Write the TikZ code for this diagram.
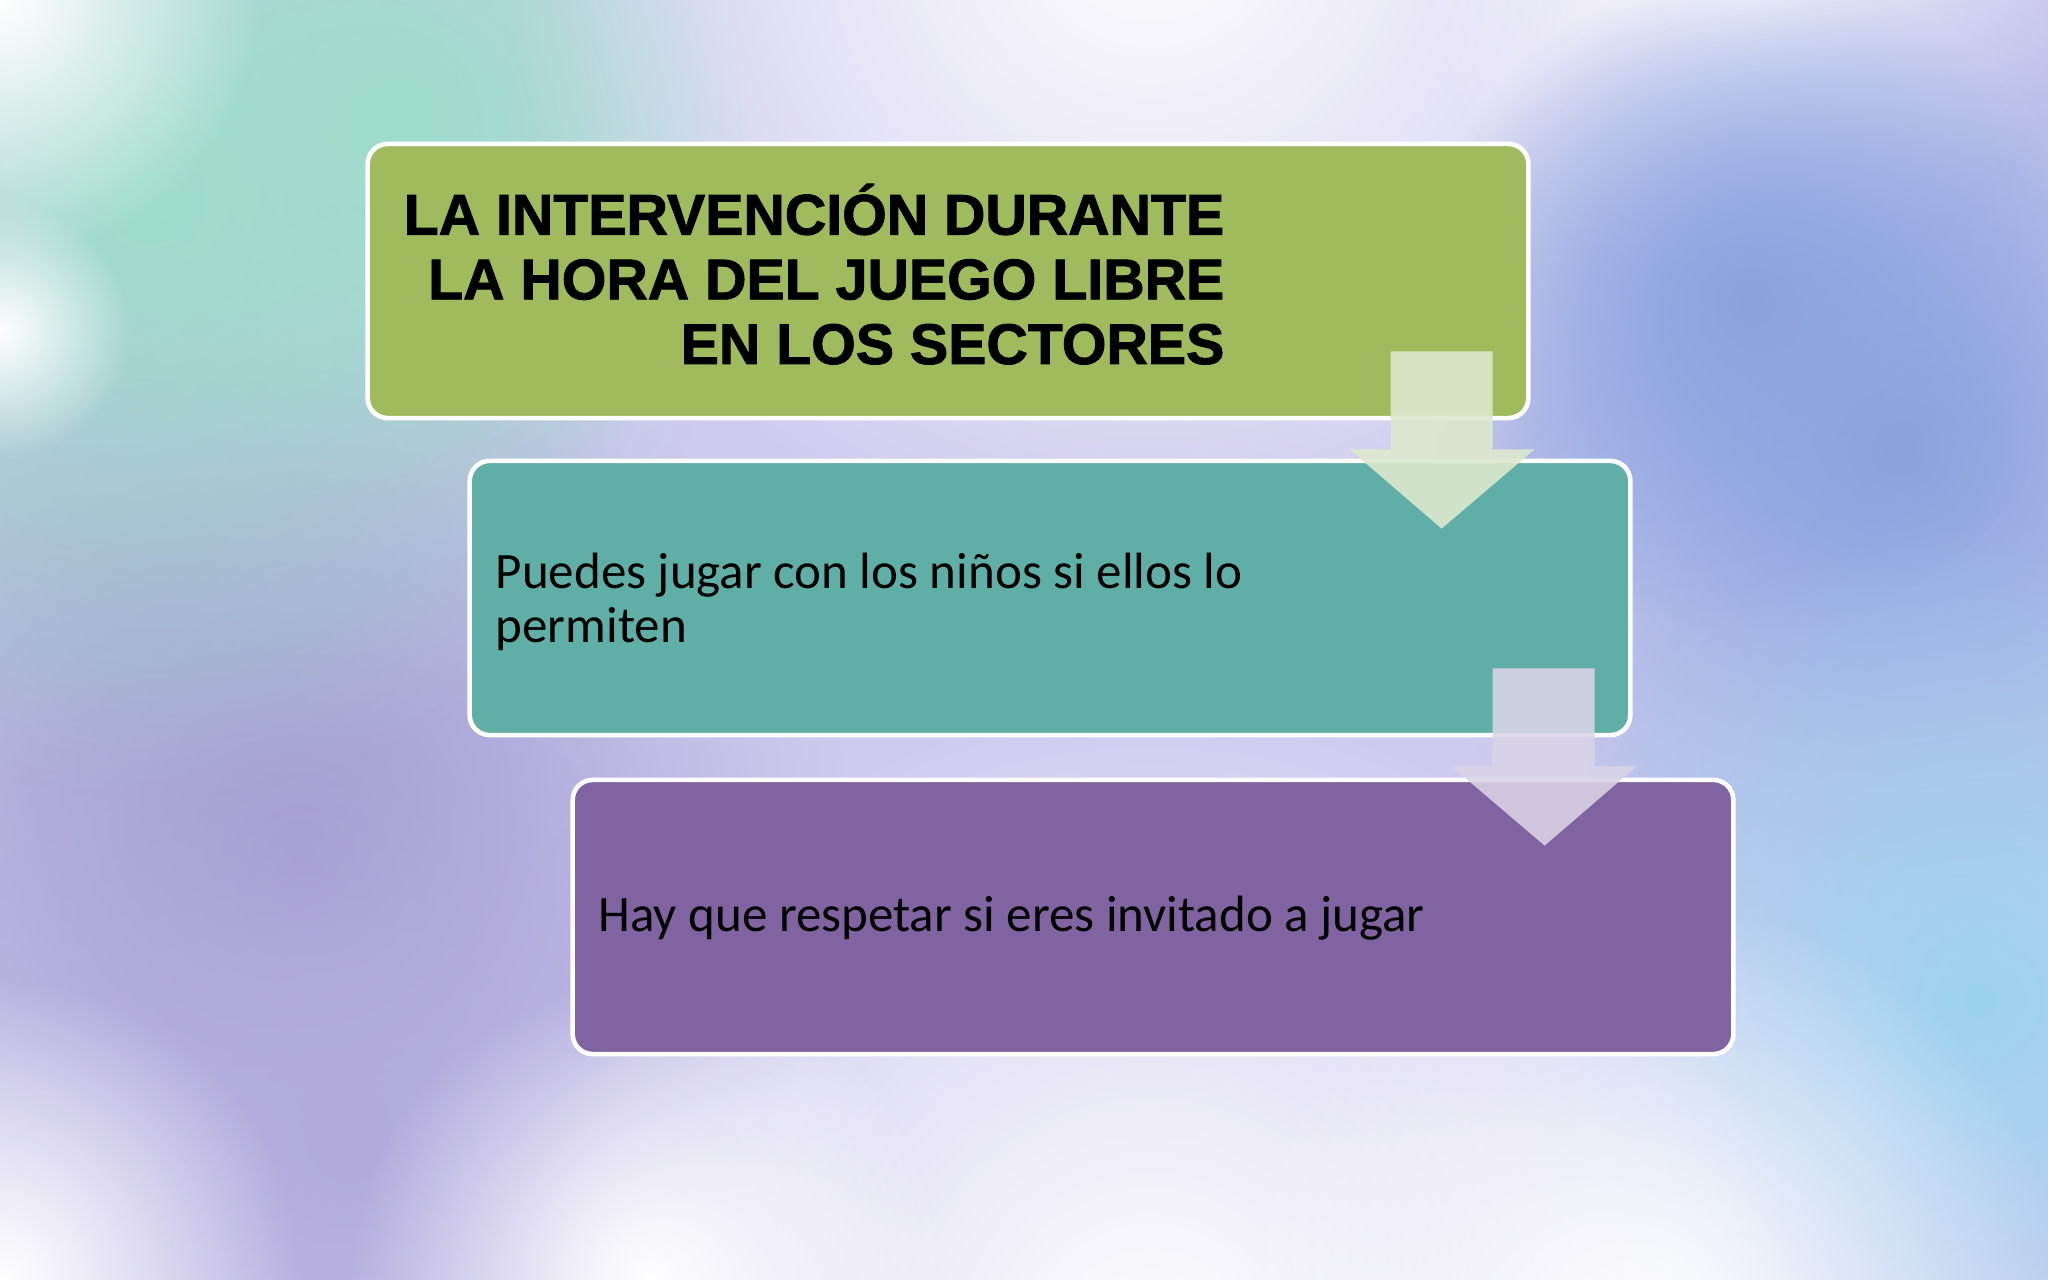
\documentclass[tikz,border=0pt]{standalone}
\usepackage{fontspec}
\setmainfont{Carlito}
\newfontfamily\titlefont[FakeBold=1.6]{Liberation Sans Bold}
\usetikzlibrary{calc,fadings}
\definecolor{bgbase}{HTML}{CFCBEE}
\definecolor{mint}{HTML}{9EDDCB}
\definecolor{lilac}{HTML}{A49DD3}
\definecolor{lilac2}{HTML}{B3ABDE}
\definecolor{greyl}{HTML}{B4B6DA}
\definecolor{bluew}{HTML}{8AA3E0}
\definecolor{cyanw}{HTML}{9CD3F0}
\definecolor{boxgreen}{HTML}{9FBB5D}
\definecolor{boxteal}{HTML}{5FAFA6}
\definecolor{boxpurple}{HTML}{8064A2}
\definecolor{arrowA}{HTML}{DDE8CF}
\definecolor{arrowB}{HTML}{DAD4E6}
\tikzfading[name=blobfade, inner color=transparent!0, outer color=transparent!100]
\tikzset{
  blob/.style={fill=#1, path fading=blobfade},
  stagebox/.style={draw=white, line width=1.3pt, rounded corners=0.2cm,
    minimum width=11.6cm, minimum height=2.74cm, inner sep=0pt},
  titletext/.style={font=\titlefont\fontsize{16.3}{18.4}\selectfont,
    align=right, inner sep=0pt, text=black},
  bodytext/.style={font=\fontsize{14.5}{15.6}\selectfont, align=left,
    inner sep=0pt, text=black},
  blockarrowA/.style={fill=arrowA, fill opacity=0.9},
  blockarrowB/.style={fill=arrowB, fill opacity=0.88}
}
\begin{document}
\begin{tikzpicture}[x=0.01cm,y=-0.01cm]
\useasboundingbox (0,0) rectangle (2048,1280);
% background watercolour
\fill[bgbase] (0,0) rectangle (2048,1280);
\begin{scope}
\clip (0,0) rectangle (2048,1280);
\fill[blob=greyl] (150,600) circle (500);
\fill[blob=lilac] (300,850) circle (550);
\fill[blob=lilac2] (350,1150) circle (450);
\fill[blob=mint] (150,200) circle (600);
\fill[blob=mint] (400,120) circle (380);
\fill[blob=white] (0,0) circle (260);
\fill[blob=white] (1150,-80) circle (650);
\fill[blob=white] (1750,-40) circle (330);
\fill[blob=bluew] (1900,450) circle (520);
\fill[blob=bluew] (1750,300) circle (330);
\fill[blob=cyanw] (1980,1000) circle (480);
\fill[blob=white] (1150,1350) circle (650);
\fill[blob=white] (1650,1320) circle (420);
\fill[blob=white] (0,330) circle (130);
\fill[blob=white] (0,1280) circle (300);
\fill[blob=white] (650,1280) circle (300);
\end{scope}
% boxes
\node[stagebox, fill=boxgreen] (b1) at (948,281) {};
\node[stagebox, fill=boxteal] (b2) at (1050,598) {};
\node[stagebox, fill=boxpurple] (b3) at (1153,917) {};
% texts (base anchor = last line)
\node[titletext, anchor=base east] (t1) at (1225,364)
  {LA INTERVENCIÓN DURANTE\\LA HORA DEL JUEGO LIBRE\\EN LOS SECTORES};
\node[bodytext, anchor=base west] (t2) at (495,643)
  {Puedes jugar con los niños si ellos lo\\permiten};
\node[bodytext, anchor=base west] (t3) at (598,932)
  {Hay que respetar si eres invitado a jugar};
% block arrows
\coordinate (a1s) at ($(b1.south east)+(-89,-69)$);
\coordinate (a1e) at ($(b2.north east)+(-191,70)$);
\fill[blockarrowA] ($(a1s)+(-51,0)$) -- ($(a1s)+(51,0)$) -- ($(a1s)+(51,98)$)
  -- ($(a1s)+(93,98)$) -- (a1e) -- ($(a1s)+(-92,98)$) -- ($(a1s)+(-51,98)$) -- cycle;
\coordinate (a2s) at ($(b2.south east)+(-89,-69)$);
\coordinate (a2e) at ($(b3.north east)+(-191,68)$);
\fill[blockarrowB] ($(a2s)+(-51,0)$) -- ($(a2s)+(51,0)$) -- ($(a2s)+(51,98)$)
  -- ($(a2s)+(93,98)$) -- (a2e) -- ($(a2s)+(-92,98)$) -- ($(a2s)+(-51,98)$) -- cycle;
\end{tikzpicture}
\end{document}
